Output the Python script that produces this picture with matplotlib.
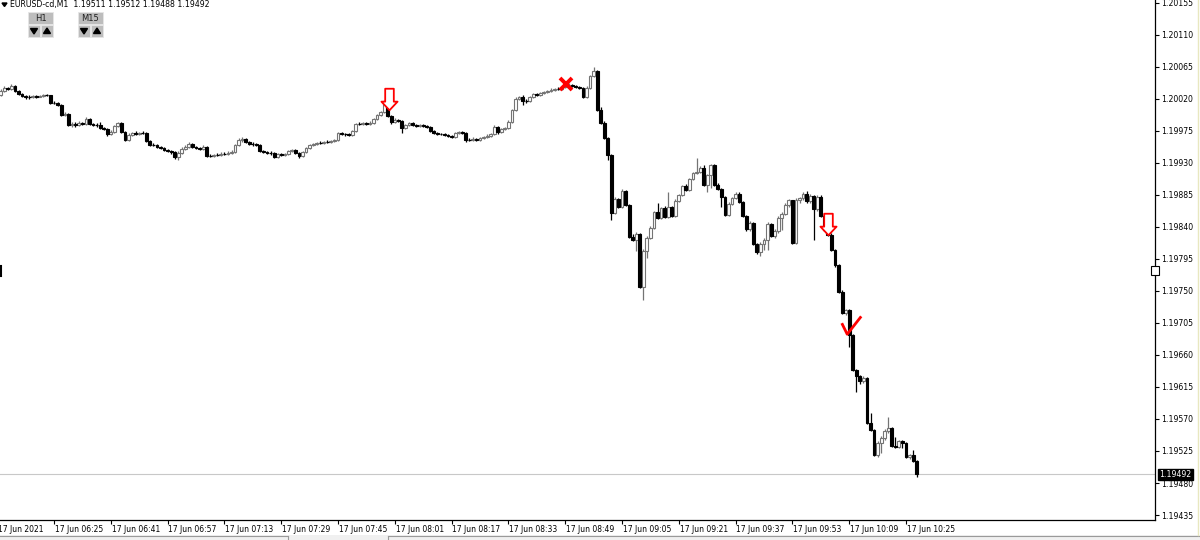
import numpy as np
import matplotlib
matplotlib.use("Agg")
import matplotlib.pyplot as plt
from matplotlib.path import Path
from matplotlib.patches import Rectangle, Polygon

plt.rcParams['font.family'] = ['DejaVu Sans Condensed', 'DejaVu Sans']

# ---------------- data ----------------
symbol = "EURUSD-cd,M1"
header_prices = ["1.19511", "1.19512", "1.19488", "1.19492"]
first_open_pts = 120025          # open of the first visible bar (06:10)
first_bar_minute = 1             # minutes after 06:09

close_pts = [
    120031, 120035, 120034, 120038, 120031, 120027, 120024, 120023, 120023, 120024,
    120023, 120024, 120025, 120025, 120014, 120014, 120011, 119997, 119999, 119983,
    119985, 119983, 119986, 119985, 119992, 119985, 119983, 119983, 119979, 119978,
    119971, 119973, 119982, 119986, 119973, 119962, 119969, 119972, 119971, 119972,
    119972, 119961, 119955, 119955, 119952, 119951, 119948, 119947, 119945, 119938,
    119944, 119949, 119952, 119956, 119952, 119951, 119949, 119952, 119940, 119940,
    119941, 119941, 119942, 119942, 119944, 119945, 119955, 119962, 119964, 119959,
    119956, 119956, 119955, 119947, 119945, 119944, 119944, 119938, 119942, 119941,
    119942, 119947, 119948, 119944, 119940, 119945, 119951, 119955, 119956, 119958,
    119958, 119959, 119959, 119961, 119962, 119972, 119971, 119971, 119969, 119975,
    119985, 119985, 119986, 119985, 119986, 119992, 119997, 120001, 120014, 119996,
    119987, 119990, 119989, 119979, 119983, 119986, 119983, 119982, 119983, 119982,
    119980, 119975, 119972, 119971, 119971, 119969, 119968, 119966, 119972, 119973,
    119972, 119962, 119962, 119964, 119962, 119965, 119966, 119968, 119971, 119980,
    119973, 119978, 119979, 119987, 120004, 120020, 120023, 120017, 120017, 120023,
    120027, 120025, 120028, 120030, 120031, 120032, 120034, 120034, 120037, 120038,
    120039, 120038, 120037, 120035, 120023, 120035, 120052, 120059, 120004, 119986,
    119965, 119941, 119859, 119879, 119868, 119890, 119871, 119826, 119822, 119830,
    119755, 119806, 119824, 119838, 119861, 119852, 119867, 119854, 119868, 119855,
    119876, 119885, 119897, 119892, 119907, 119916, 119917, 119923, 119899, 119913,
    119927, 119899, 119893, 119882, 119857, 119872, 119881, 119886, 119875, 119855,
    119837, 119845, 119816, 119805, 119816, 119822, 119844, 119827, 119834, 119852,
    119858, 119871, 119878, 119817, 119878, 119881, 119886, 119876, 119883, 119865,
    119882, 119855, 119836, 119829, 119807, 119786, 119748, 119719, 119723, 119688,
    119639, 119630, 119623, 119627, 119564, 119554, 119519, 119536, 119543, 119553,
    119557, 119532, 119530, 119539, 119536, 119516, 119519, 119511, 119492,
]
high_pts = [
    120034, 120038, 120037, 120041, 120039, 120032, 120028, 120025, 120025, 120025,
    120025, 120025, 120027, 120027, 120025, 120017, 120016, 120013, 120001, 120000,
    119987, 119987, 119989, 119987, 119994, 119993, 119986, 119986, 119987, 119980,
    119979, 119976, 119983, 119987, 119987, 119975, 119972, 119973, 119975, 119973,
    119975, 119973, 119962, 119958, 119956, 119954, 119952, 119949, 119948, 119947,
    119947, 119952, 119955, 119959, 119958, 119954, 119952, 119955, 119954, 119942,
    119942, 119944, 119945, 119945, 119947, 119948, 119956, 119965, 119966, 119965,
    119961, 119959, 119958, 119956, 119948, 119947, 119947, 119945, 119944, 119944,
    119944, 119948, 119949, 119949, 119945, 119947, 119952, 119956, 119958, 119959,
    119961, 119961, 119962, 119962, 119964, 119973, 119973, 119972, 119972, 119976,
    119986, 119987, 119987, 119987, 119989, 119993, 119999, 120003, 120018, 120016,
    119997, 119993, 119992, 119990, 119985, 119987, 119987, 119985, 119985, 119985,
    119983, 119982, 119976, 119973, 119972, 119972, 119971, 119969, 119973, 119975,
    119975, 119973, 119965, 119966, 119965, 119966, 119968, 119971, 119972, 119983,
    119982, 119979, 119980, 119990, 120006, 120023, 120024, 120025, 120020, 120024,
    120028, 120028, 120030, 120031, 120032, 120035, 120035, 120037, 120038, 120041,
    120042, 120041, 120039, 120038, 120037, 120038, 120054, 120065, 120061, 120009,
    119989, 119966, 119942, 119882, 119881, 119893, 119892, 119872, 119830, 119833,
    119831, 119809, 119827, 119841, 119862, 119874, 119868, 119869, 119889, 119869,
    119879, 119886, 119899, 119900, 119909, 119917, 119937, 119926, 119927, 119914,
    119928, 119928, 119902, 119895, 119883, 119875, 119882, 119889, 119889, 119876,
    119857, 119848, 119847, 119817, 119819, 119824, 119847, 119845, 119837, 119855,
    119861, 119874, 119879, 119878, 119881, 119882, 119889, 119890, 119886, 119885,
    119885, 119885, 119858, 119838, 119831, 119809, 119788, 119751, 119724, 119724,
    119689, 119640, 119632, 119630, 119629, 119578, 119556, 119539, 119546, 119556,
    119573, 119559, 119545, 119540, 119540, 119537, 119521, 119526, 119512,
]
low_pts = [
    120024, 120030, 120032, 120032, 120030, 120025, 120023, 120020, 120020, 120021,
    120021, 120023, 120023, 120024, 120013, 120013, 120010, 119996, 119996, 119982,
    119980, 119980, 119982, 119983, 119983, 119983, 119982, 119980, 119978, 119976,
    119968, 119969, 119972, 119980, 119972, 119961, 119961, 119968, 119969, 119969,
    119971, 119959, 119954, 119954, 119951, 119949, 119947, 119945, 119942, 119935,
    119934, 119942, 119948, 119951, 119951, 119949, 119948, 119948, 119938, 119938,
    119938, 119940, 119940, 119941, 119941, 119942, 119944, 119954, 119959, 119958,
    119955, 119954, 119954, 119945, 119944, 119942, 119941, 119937, 119937, 119940,
    119940, 119941, 119945, 119942, 119937, 119938, 119944, 119949, 119954, 119955,
    119956, 119956, 119958, 119958, 119959, 119961, 119969, 119968, 119968, 119968,
    119973, 119983, 119983, 119983, 119983, 119985, 119990, 119996, 120000, 119994,
    119985, 119986, 119987, 119972, 119978, 119982, 119982, 119980, 119980, 119980,
    119979, 119973, 119971, 119969, 119969, 119968, 119966, 119965, 119965, 119971,
    119971, 119959, 119961, 119961, 119961, 119961, 119964, 119965, 119966, 119969,
    119971, 119972, 119976, 119978, 119986, 120003, 120018, 120011, 120014, 120016,
    120021, 120024, 120024, 120027, 120028, 120030, 120031, 120032, 120032, 120035,
    120037, 120037, 120035, 120034, 120021, 120021, 120034, 120051, 120003, 119985,
    119964, 119934, 119850, 119858, 119867, 119867, 119869, 119824, 119820, 119806,
    119754, 119737, 119796, 119823, 119837, 119851, 119851, 119852, 119852, 119854,
    119854, 119875, 119883, 119890, 119890, 119906, 119914, 119916, 119897, 119889,
    119895, 119897, 119892, 119868, 119855, 119855, 119871, 119879, 119874, 119854,
    119834, 119834, 119814, 119802, 119799, 119807, 119807, 119826, 119824, 119831,
    119836, 119857, 119868, 119816, 119816, 119874, 119878, 119874, 119874, 119822,
    119862, 119854, 119834, 119827, 119806, 119784, 119747, 119717, 119716, 119671,
    119637, 119608, 119619, 119620, 119563, 119553, 119518, 119516, 119522, 119540,
    119550, 119530, 119529, 119529, 119529, 119515, 119514, 119509, 119488,
]

last_price = 1.19492
ytick_values = [1.19435, 1.19480, 1.19525, 1.19570, 1.19615, 1.19660, 1.19705,
                1.19750, 1.19795, 1.19840, 1.19885, 1.19930, 1.19975, 1.20020,
                1.20065, 1.20110, 1.20155]
xtick_minutes = [0, 16, 32, 48, 64, 80, 96, 112, 128, 144, 160, 176, 192, 208,
                 224, 240, 256]
xtick_labels = ["17 Jun 2021", "17 Jun 06:25", "17 Jun 06:41", "17 Jun 06:57",
                "17 Jun 07:13", "17 Jun 07:29", "17 Jun 07:45", "17 Jun 08:01",
                "17 Jun 08:17", "17 Jun 08:33", "17 Jun 08:49", "17 Jun 09:05",
                "17 Jun 09:21", "17 Jun 09:37", "17 Jun 09:53", "17 Jun 10:09",
                "17 Jun 10:25"]
sell_arrow_minutes = [110.5, 234.0]
sell_arrow_prices = [1.20020, 1.19844]
cross_minute, cross_price = 160.2, 1.20041
check_minute, check_price = 240.5, 1.19702

# ---------------- figure ----------------
W, H = 1200, 540
fig = plt.figure(figsize=(W / 100, H / 100), dpi=100)
fig.patch.set_facecolor('white')
ax_right_px, ax_bottom_px = 1155, 520
ax = fig.add_axes([0, 1 - ax_bottom_px / H, ax_right_px / W, ax_bottom_px / H])
ax.set_facecolor('white')

n = min(len(close_pts), len(high_pts), len(low_pts))
closes = np.array(close_pts[:n]) / 1e5
highs = np.array(high_pts[:n]) / 1e5
lows = np.array(low_pts[:n]) / 1e5
opens = np.concatenate([[first_open_pts / 1e5], closes[:-1]])
m = first_bar_minute + np.arange(n)

bull = closes > opens
bear = closes < opens
doji = ~(bull | bear)
bull_col = '#747474'
bw = 0.8

# wicks
ax.vlines(m[bull], lows[bull], highs[bull], colors=bull_col, lw=0.9, zorder=2)
ax.vlines(m[~bull], lows[~bull], highs[~bull], colors='black', lw=0.9, zorder=2)
# bodies
ax.bar(m[bull], (closes - opens)[bull], bottom=opens[bull], width=bw,
       facecolor='white', edgecolor=bull_col, linewidth=0.8, zorder=3)
ax.bar(m[bear], (opens - closes)[bear], bottom=closes[bear], width=bw,
       facecolor='black', edgecolor='black', linewidth=0.8, zorder=3)
ax.hlines(closes[doji], m[doji] - bw / 2, m[doji] + bw / 2, colors='black',
          lw=0.9, zorder=3)

# current price line
ax.axhline(last_price, color='#c8c8c8', lw=0.8, zorder=1)

# signals
arrow_path = Path([(-0.2, 0.5), (0.2, 0.5), (0.2, -0.1), (0.375, -0.1),
                   (0.0, -0.5), (-0.375, -0.1), (-0.2, -0.1), (-0.2, 0.5)],
                  closed=True)
ax.plot(sell_arrow_minutes, sell_arrow_prices, linestyle='none', marker=arrow_path,
        markersize=15.5, markerfacecolor='white', markeredgecolor='#ff0000',
        markeredgewidth=1.3, zorder=5)
ax.plot([cross_minute], [cross_price], linestyle='none', marker='x', markersize=8,
        markeredgecolor='#ff0000', markeredgewidth=2.8, zorder=5)
check_path = Path([(-0.5, 0.12), (-0.22, -0.45), (0.5, 0.47)],
                  [Path.MOVETO, Path.LINETO, Path.LINETO])
ax.plot([check_minute], [check_price], linestyle='none', marker=check_path,
        markersize=14, fillstyle='none', markeredgecolor='#ff0000',
        markeredgewidth=2.0, zorder=5)

# axes limits & ticks
px_per_min = 3.55
x0_px = -2.8
ax.set_xlim((0 - x0_px) / px_per_min, (ax_right_px - x0_px) / px_per_min)
ax.set_ylim(1.19428, 1.20159)

for s in ['left', 'top']:
    ax.spines[s].set_visible(False)
for s in ['right', 'bottom']:
    ax.spines[s].set_color('black')
    ax.spines[s].set_linewidth(0.9)

ax.yaxis.tick_right()
ax.set_yticks(ytick_values)
ax.set_yticklabels([f"{v:.5f}" for v in ytick_values])
ax.tick_params(axis='y', direction='out', length=3, width=0.8, pad=1.5,
               labelsize=5.6, colors='black')
ax.set_xticks([t for t in xtick_minutes if t > 1])
ax.set_xticklabels([])
ax.tick_params(axis='x', direction='out', length=3, width=0.8)
xt = ax.get_xaxis_transform()
for t, lab in zip(xtick_minutes, xtick_labels):
    ax.text(t + 0.25, -0.0175, lab, transform=xt, ha='left', va='center',
            fontsize=5.5, color='black', clip_on=False)

# price tag
ax.text(1.0 + 4 / ax_right_px, last_price, f"{last_price:.5f}",
        transform=ax.get_yaxis_transform(), ha='left', va='center',
        fontsize=5.6, color='white', zorder=10, clip_on=False,
        bbox=dict(boxstyle='square,pad=0.18', facecolor='black', edgecolor='black'))

# ---------------- overlay (terminal furniture) ----------------
ov = fig.add_axes([0, 0, 1, 1], zorder=20)
ov.set_xlim(0, W)
ov.set_ylim(H, 0)
ov.axis('off')
ov.patch.set_alpha(0)

ov.add_patch(Polygon([(2, 3), (7, 3), (4.5, 6.5)], closed=True, color='black'))
ov.text(10, 5, symbol + "  " + " ".join(header_prices), ha='left', va='center',
        fontsize=5.6, color='black')

def button(x, y, w, h, label=None, tri=None):
    ov.add_patch(Rectangle((x, y), w, h, facecolor='#bdbdbd', edgecolor='#e6e6e6',
                           lw=0.6))
    cx, cy = x + w / 2, y + h / 2
    if label:
        ov.text(cx, cy + 0.5, label, ha='center', va='center',
                fontsize=6, color='#202020')
    if tri == 'down':
        ov.add_patch(Polygon([(cx - 3.5, cy - 2.5), (cx + 3.5, cy - 2.5), (cx, cy + 3)],
                             closed=True, color='black'))
    if tri == 'up':
        ov.add_patch(Polygon([(cx - 3.5, cy + 2.5), (cx + 3.5, cy + 2.5), (cx, cy - 3)],
                             closed=True, color='black'))

for bx, lab in [(28, "H1"), (78, "M15")]:
    button(bx, 12, 25, 12, label=lab)
    button(bx, 25, 12, 12, tri='down')
    button(bx + 13, 25, 12, 12, tri='up')

# chart shift markers
ov.plot([1, 1], [266, 276], color='black', lw=1.5)
ov.add_patch(Rectangle((1151, 266), 8, 9, facecolor='white', edgecolor='black', lw=0.8))

# bottom tab strip
ov.add_patch(Rectangle((0, 535), W, 6, facecolor='#f0f0f0', edgecolor='none'))
ov.plot([0, 288], [535.5, 535.5], color='#9a9a9a', lw=0.8)
ov.plot([288, 288], [535.5, 540], color='#9a9a9a', lw=0.8)
ov.plot([388, 388], [535.5, 540], color='#9a9a9a', lw=0.8)
ov.plot([388, W], [535.5, 535.5], color='#9a9a9a', lw=0.8)
ov.plot([1198, 1198], [0, 535], color='#e8e8c0', lw=1.0)

fig.savefig("out.png", dpi=100, facecolor='white')
